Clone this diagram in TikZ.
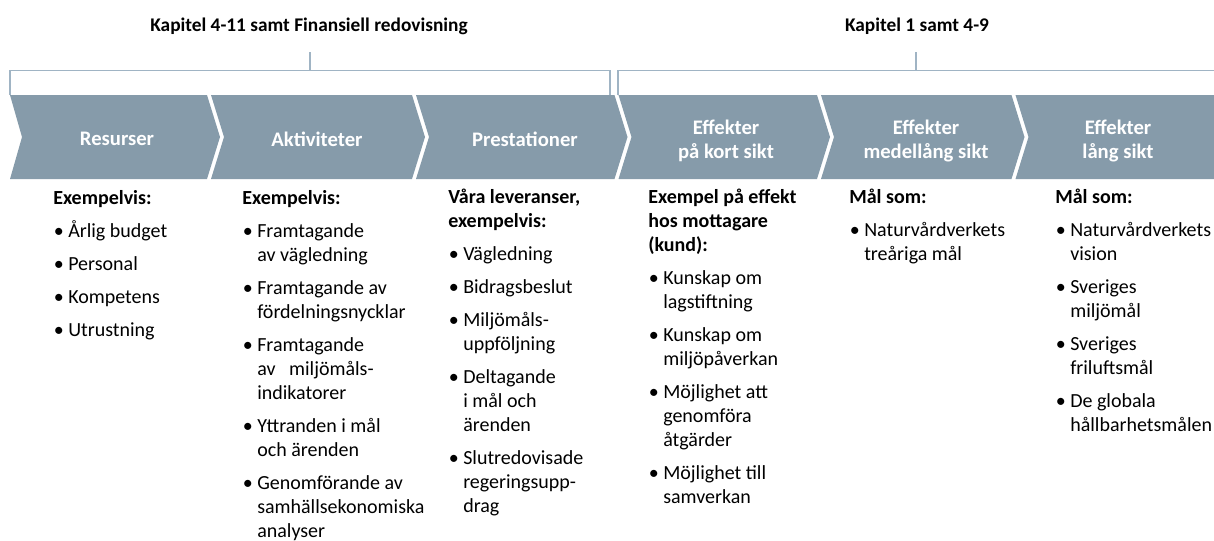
\documentclass[tikz,border=0pt]{standalone}
\usepackage{fontspec}
\setmainfont{Carlito}
\usepackage{xcolor}

\definecolor{pilgra}{RGB}{134,155,170}
\definecolor{klammerfarg}{RGB}{160,180,196}

% punkt och indrag i listorna
\newcommand{\pkt}{\makebox[11.25pt][l]{\hspace{0.5pt}\textbullet}}
\newcommand{\ind}{\hspace*{11.25pt}}
\newcommand{\mell}{6.75pt}

\begin{document}
\begin{tikzpicture}[x=0.75pt,y=-0.75pt,
    klamra/.style={draw=klammerfarg, line width=0.8pt},
    pil/.style={fill=pilgra},
    pilrubrik/.style={text=white, font=\fontsize{15.5}{18}\selectfont\bfseries, align=center, inner sep=0pt},
    kapitel/.style={font=\fontsize{14.5}{17}\selectfont\bfseries, inner sep=0pt, anchor=base},
    lista/.style={font=\fontsize{15}{18}\selectfont, inner sep=0pt, anchor=base west}]
    % Ramen: hela bilden
    \useasboundingbox (0,0) rectangle (1214,540);

    % Parametrar: pilarnas höjd, spets och glipa
    \def\ytop{95}
    \def\ymid{137}
    \def\ybot{179}
    \def\spets{13}
    \def\g{2}

    % Rubriker ovanför klamrarna
    \node[kapitel] (kapA) at (309,31) {Kapitel 4-11 samt Finansiell redovisning};
    \node[kapitel] (kapB) at (917,31) {Kapitel 1 samt 4-9};

    % Klamrar
    \draw[klamra] (10,\ytop) -- (10,70.5) -- (610,70.5) -- (610,\ytop);
    \draw[klamra] (310,52) -- (310,70.5);
    \draw[klamra] (618,\ytop) -- (618,70.5) -- (1214,70.5);
    \draw[klamra] (916,52) -- (916,70.5);

    % Pilar (gränser vid 10, 209, 414, 616.5, 819, 1013.5)
    \fill[pil] (10,\ytop) -- ({209-\g},\ytop) -- ({209-\g+\spets},\ymid) -- ({209-\g},\ybot) -- (10,\ybot) -- (22,\ymid) -- cycle;
    \fill[pil] ({209+\g},\ytop) -- ({414-\g},\ytop) -- ({414-\g+\spets},\ymid) -- ({414-\g},\ybot) -- ({209+\g},\ybot) -- ({209+\g+\spets},\ymid) -- cycle;
    \fill[pil] ({414+\g},\ytop) -- ({616.5-\g},\ytop) -- ({616.5-\g+\spets},\ymid) -- ({616.5-\g},\ybot) -- ({414+\g},\ybot) -- ({414+\g+\spets},\ymid) -- cycle;
    \fill[pil] ({616.5+\g},\ytop) -- ({819-\g},\ytop) -- ({819-\g+\spets},\ymid) -- ({819-\g},\ybot) -- ({616.5+\g},\ybot) -- ({616.5+\g+\spets},\ymid) -- cycle;
    \fill[pil] ({819+\g},\ytop) -- ({1013.5-\g},\ytop) -- ({1013.5-\g+\spets},\ymid) -- ({1013.5-\g},\ybot) -- ({819+\g},\ybot) -- ({819+\g+\spets},\ymid) -- cycle;
    \fill[pil] ({1013.5+\g},\ytop) -- (1214,\ytop) -- (1214,\ybot) -- ({1013.5+\g},\ybot) -- ({1013.5+\g+\spets},\ymid) -- cycle;

    % Text i pilarna
    \node[pilrubrik] (resurser) at (117,139) {Resurser};
    \node[pilrubrik] (aktiviteter) at (317,139) {Aktiviteter};
    \node[pilrubrik] (prestationer) at (525,139) {Prestationer};
    \node[pilrubrik] (kort) at (726,141) {Effekter\\på kort sikt};
    \node[pilrubrik] (medel) at (926,141) {Effekter\\medellång sikt};
    \node[pilrubrik] (lang) at (1118,141) {Effekter\\lång sikt};

    % Listor under pilarna
    \node[lista] (resurslista) at (53,204) {\begin{tabular}[t]{@{}l@{}}
        \textbf{Exempelvis:}\\[\mell]
        \pkt Årlig budget\\[\mell]
        \pkt Personal\\[\mell]
        \pkt Kompetens\\[\mell]
        \pkt Utrustning
    \end{tabular}};
    \node[lista] (aktivitetslista) at (242,204) {\begin{tabular}[t]{@{}l@{}}
        \textbf{Exempelvis:}\\[\mell]
        \pkt Framtagande\\
        \ind av vägledning\\[\mell]
        \pkt Framtagande av\\
        \ind fördelningsnycklar\\[\mell]
        \pkt Framtagande\\
        \ind av\ \ \ miljömåls-\\
        \ind indikatorer\\[\mell]
        \pkt Yttranden i mål\\
        \ind och ärenden\\[\mell]
        \pkt Genomförande av\\
        \ind samhällsekonomiska\\
        \ind analyser
    \end{tabular}};
    \node[lista] (prestationslista) at (448,203) {\begin{tabular}[t]{@{}l@{}}
        \textbf{Våra leveranser,}\\
        \textbf{exempelvis:}\\[\mell]
        \pkt Vägledning\\[\mell]
        \pkt Bidragsbeslut\\[\mell]
        \pkt Miljömåls-\\
        \ind uppföljning\\[\mell]
        \pkt Deltagande\\
        \ind i mål och\\
        \ind ärenden\\[\mell]
        \pkt Slutredovisade\\
        \ind regeringsupp-\\
        \ind drag
    \end{tabular}};
    \node[lista] (kortlista) at (648,203) {\begin{tabular}[t]{@{}l@{}}
        \textbf{Exempel på effekt}\\
        \textbf{hos mottagare}\\
        \textbf{(kund):}\\[\mell]
        \pkt Kunskap om\\
        \ind lagstiftning\\[\mell]
        \pkt Kunskap om\\
        \ind miljöpåverkan\\[\mell]
        \pkt Möjlighet att\\
        \ind genomföra\\
        \ind åtgärder\\[\mell]
        \pkt Möjlighet till\\
        \ind samverkan
    \end{tabular}};
    \node[lista] (medellista) at (849,203) {\begin{tabular}[t]{@{}l@{}}
        \textbf{Mål som:}\\[\mell]
        \pkt Naturvårdverkets\\
        \ind treåriga mål
    \end{tabular}};
    \node[lista] (langlista) at (1055,203) {\begin{tabular}[t]{@{}l@{}}
        \textbf{Mål som:}\\[\mell]
        \pkt Naturvårdverkets\\
        \ind vision\\[\mell]
        \pkt Sveriges\\
        \ind miljömål\\[\mell]
        \pkt Sveriges\\
        \ind friluftsmål\\[\mell]
        \pkt De globala\\
        \ind hållbarhetsmålen
    \end{tabular}};
\end{tikzpicture}
\end{document}
